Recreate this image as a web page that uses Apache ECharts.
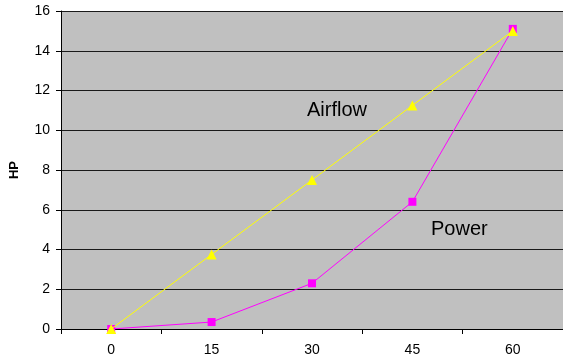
<!DOCTYPE html>
<html>
<head>
<meta charset="utf-8">
<script src="https://cdn.jsdelivr.net/npm/echarts@6/dist/echarts.min.js"></script>
<style>
  html, body { margin: 0; padding: 0; background: #fff; }
  #chart { width: 563px; height: 364px; }
</style>
</head>
<body>
<div id="chart"></div>
<script>
// Speed steps along the x axis
const speeds = ['0', '15', '30', '45', '60'];
// Horsepower readings for each curve
const powerHP = [0, 0.35, 2.3, 6.4, 15.1];
const airflowHP = [0, 3.75, 7.5, 11.25, 15];
// Value axis range
const yMin = 0, yMax = 16, yStep = 2;

const font = 'Liberation Sans, Arial, sans-serif';
const chart = echarts.init(document.getElementById('chart'));

chart.setOption({
  animation: false,
  backgroundColor: '#ffffff',
  grid: {
    left: 60, right: -3, top: 11, bottom: 35,
    show: true, backgroundColor: '#c0c0c0', borderWidth: 0
  },
  xAxis: {
    type: 'category',
    data: speeds,
    boundaryGap: true,
    axisLine: { lineStyle: { color: '#000', width: 1 } },
    axisTick: { show: true, length: 5, lineStyle: { color: '#000' } },
    axisLabel: { color: '#000', fontFamily: font, fontSize: 14, margin: 14 },
    splitLine: { show: false }
  },
  yAxis: {
    type: 'value',
    min: yMin, max: yMax, interval: yStep,
    name: 'HP',
    nameLocation: 'middle',
    nameGap: 40,
    nameRotate: 90,
    nameTextStyle: { color: '#000', fontFamily: font, fontSize: 13, fontWeight: 'bold' },
    axisLine: { show: true, lineStyle: { color: '#000', width: 1 } },
    axisTick: { show: true, length: 5, lineStyle: { color: '#000' } },
    axisLabel: { color: '#000', fontFamily: font, fontSize: 14, margin: 11 },
    splitLine: { show: true, lineStyle: { color: '#1a1a1a', width: 1 } }
  },
  series: [
    {
      name: 'Power',
      type: 'line',
      data: powerHP,
      symbol: 'rect',
      symbolSize: 8,
      lineStyle: { color: '#ff00ff', width: 1 },
      itemStyle: { color: '#ff00ff' },
      z: 2
    },
    {
      name: 'Airflow',
      type: 'line',
      data: airflowHP,
      symbol: 'triangle',
      symbolSize: 10,
      lineStyle: { color: '#ffff00', width: 1 },
      itemStyle: { color: '#ffff00' },
      z: 3
    }
  ],
  graphic: [
    {
      type: 'text', left: 307, top: 100,
      style: { text: 'Airflow', fill: '#000', font: '20px ' + font }
    },
    {
      type: 'text', left: 431, top: 219,
      style: { text: 'Power', fill: '#000', font: '20px ' + font }
    }
  ]
});
</script>
</body>
</html>
